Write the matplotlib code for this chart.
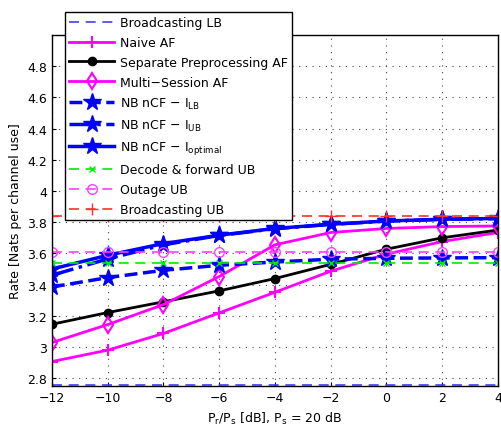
import matplotlib
matplotlib.use("Agg")
import matplotlib.pyplot as plt
import numpy as np

x = [-12, -10, -8, -6, -4, -2, 0, 2, 4]
bc_lb = 2.757
bc_ub = 3.84
outage_ub = 3.612
df_ub = 3.54
naive_af = [2.907, 2.98, 3.087, 3.219, 3.351, 3.486, 3.595, 3.676, 3.734]
sep_af = [3.146, 3.221, 3.29, 3.36, 3.439, 3.53, 3.627, 3.70, 3.75]
ms_af = [3.029, 3.144, 3.272, 3.452, 3.655, 3.734, 3.76, 3.772, 3.776]
ncf_lb = [3.385, 3.445, 3.492, 3.524, 3.545, 3.563, 3.569, 3.571, 3.573]
ncf_ub = [3.46, 3.565, 3.655, 3.715, 3.758, 3.786, 3.807, 3.818, 3.823]
ncf_opt = [3.50, 3.588, 3.663, 3.717, 3.76, 3.787, 3.808, 3.819, 3.824]

plt.rcParams['font.family'] = ['DejaVu Sans']
plt.rcParams['mathtext.default'] = 'regular'
fig = plt.figure(figsize=(5.01, 4.31), dpi=100)
ax = fig.add_axes([0.1038, 0.102, 0.890, 0.8145])

n = len(x)
ax.plot(x, [bc_lb]*n, '--', color='#4040ff', lw=1.2, dashes=(6, 4), label='Broadcasting LB')
ax.plot(x, naive_af, '-', color='#ff00ff', lw=2, marker='+', ms=9, mew=1.5, label='Naive AF')
ax.plot(x, sep_af, '-', color='black', lw=2, marker='o', ms=6, label='Separate Preprocessing AF')
ax.plot(x, ms_af, '-', color='#ff00ff', lw=2, marker='d', ms=8, mfc='none', mew=1.5, label='Multi\u2212Session AF')
ax.plot(x, ncf_lb, '--', color='#0000ff', lw=2.5, marker='*', ms=13, label='NB nCF \u2212 $I_{LB}$')
ax.plot(x, ncf_ub, '-.', color='#0000ff', lw=2.5, marker='*', ms=13, label='NB nCF \u2212 $I_{UB}$')
ax.plot(x, ncf_opt, '-', color='#0000ff', lw=2.5, marker='*', ms=13, label='NB nCF \u2212 $I_{optimal}$')
ax.plot(x, [df_ub]*n, '--', color='#00ee00', lw=1.2, dashes=(6, 4), marker='x', ms=5, label='Decode & forward UB')
ax.plot(x, [outage_ub]*n, '--', color='#ff40ff', lw=1.2, dashes=(6, 4), marker='o', mfc='none', ms=7, label='Outage UB')
ax.plot(x, [bc_ub]*n, '--', color='#ff3030', lw=1.2, dashes=(6, 4), marker='+', ms=9, label='Broadcasting UB')

ax.set_xlim(-12, 4)
ax.set_ylim(2.75, 5.0)
ax.set_xticks(x)
ax.set_xticklabels(['\u221212', '\u221210', '\u22128', '\u22126', '\u22124', '\u22122', '0', '2', '4'])
yt = [2.8, 3.0, 3.2, 3.4, 3.6, 3.8, 4.0, 4.2, 4.4, 4.6, 4.8]
ax.set_yticks(yt)
ax.set_yticklabels(['2.8', '3', '3.2', '3.4', '3.6', '3.8', '4', '4.2', '4.4', '4.6', '4.8'])
ax.tick_params(labelsize=9, direction='in', length=3)
ax.grid(True, linestyle=(0, (1, 5)), color='#444444', lw=0.8)
for s in ax.spines.values():
    s.set_linewidth(1.0)
ax.set_xlabel('$P_r/P_s$ [dB], $P_s$ = 20 dB', fontsize=9)
ax.set_ylabel('Rate [Nats per channel use]', fontsize=9)

leg = fig.legend(loc='upper left', bbox_to_anchor=(59/501, 1 - 7/431), fontsize=9,
                 handlelength=3.6, framealpha=1, fancybox=False, edgecolor='black',
                 borderpad=0.3, labelspacing=0.55, handletextpad=0.5)
leg.get_frame().set_linewidth(1.0)

fig.savefig('out.png', dpi=100)
